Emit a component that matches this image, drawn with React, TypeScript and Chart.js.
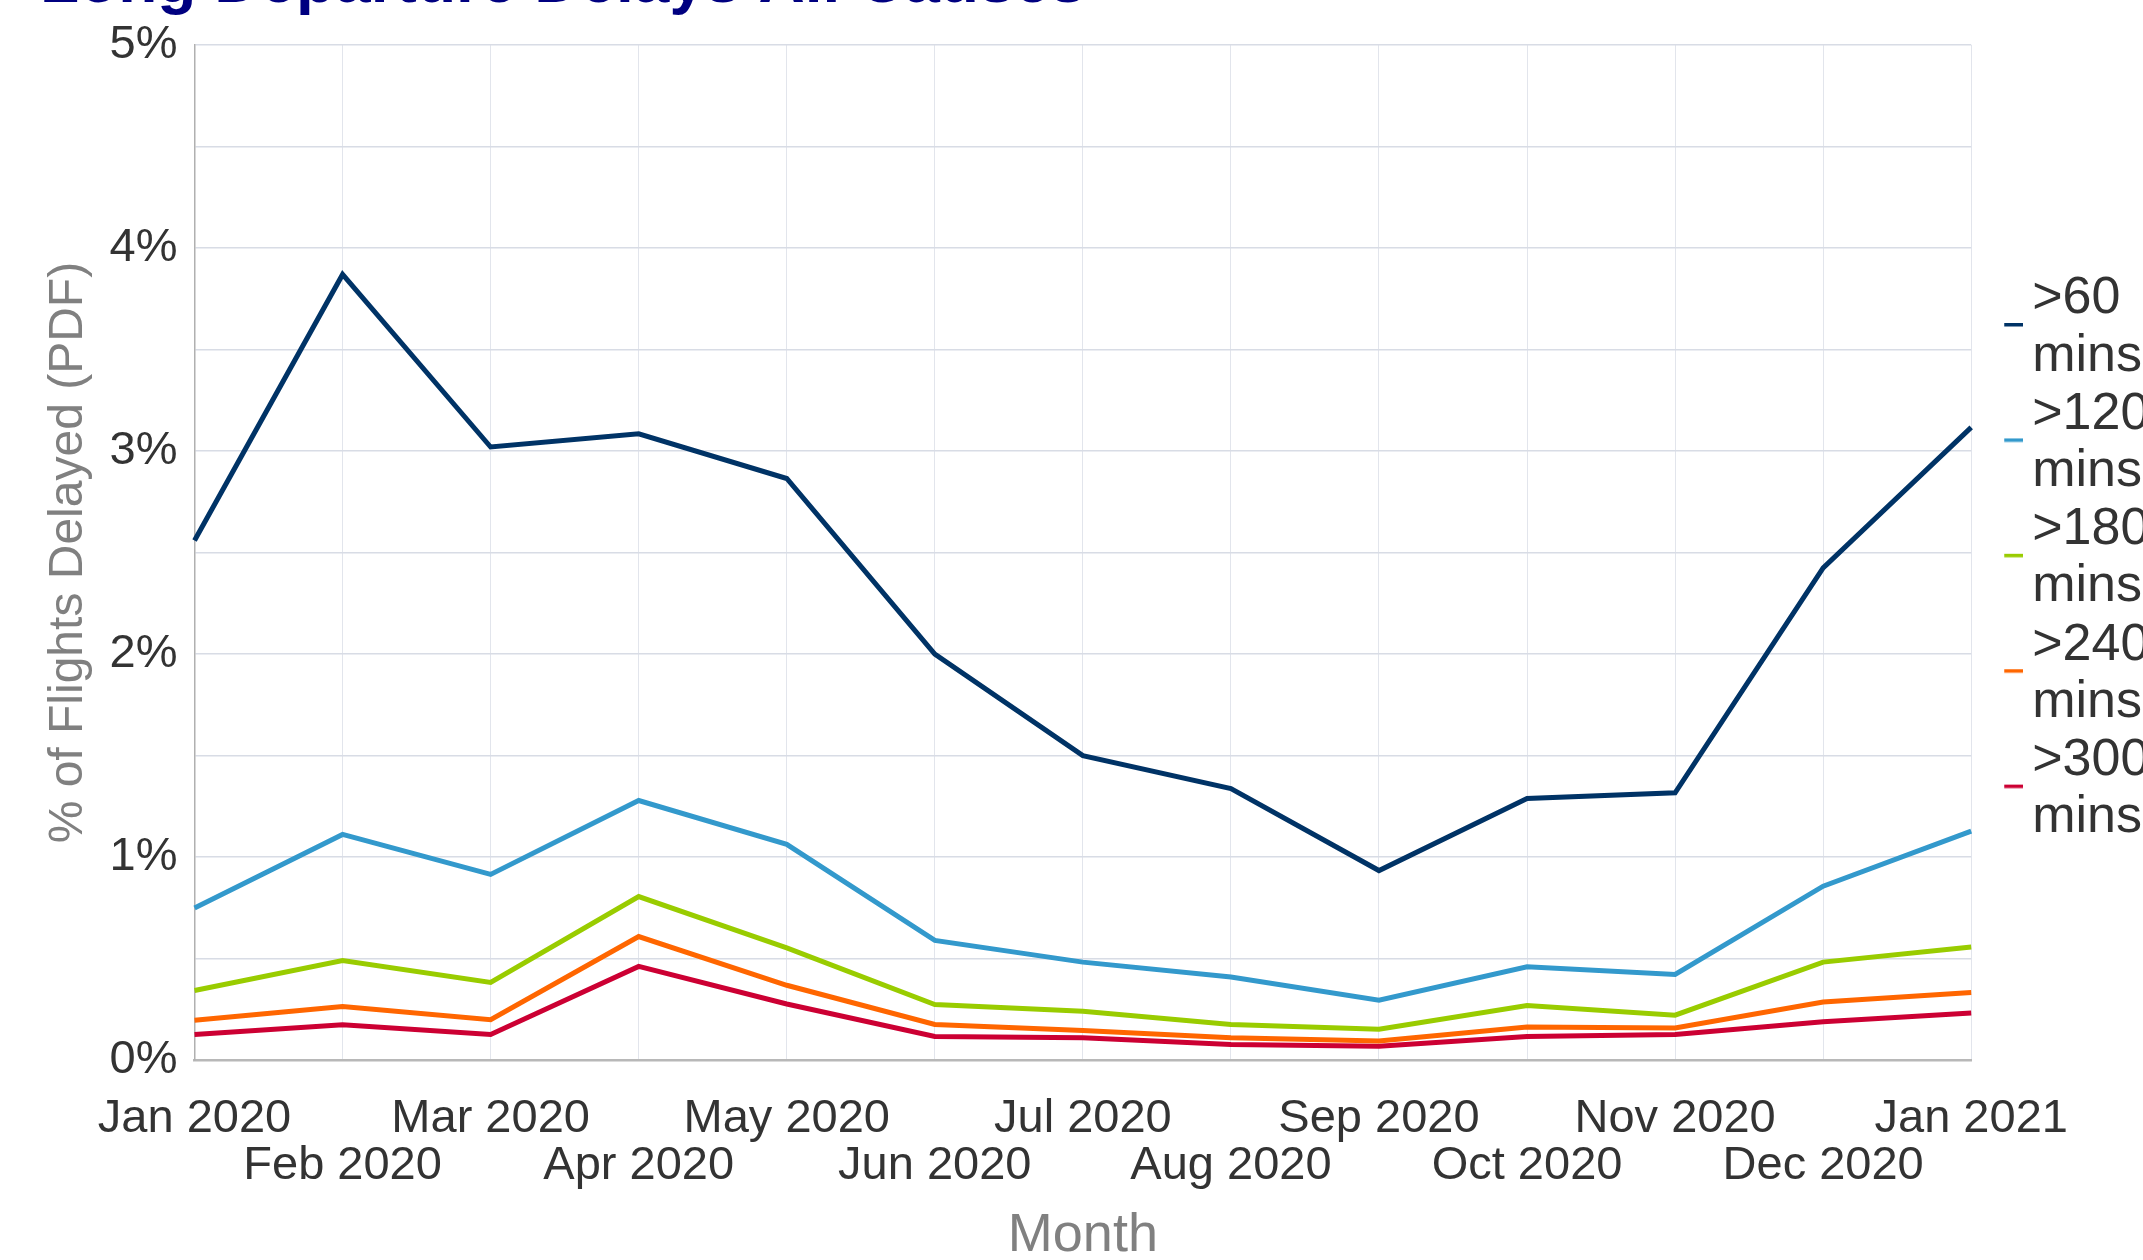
import React, { useEffect, useRef } from 'react';
import { Chart, registerables } from 'chart.js';

Chart.register(...registerables);

const TITLE = 'Long Departure Delays All Causes';
const X_TITLE = 'Month';
const Y_TITLE = '% of Flights Delayed (PDF)';

const MONTHS = [
  'Jan 2020', 'Feb 2020', 'Mar 2020', 'Apr 2020', 'May 2020', 'Jun 2020', 'Jul 2020',
  'Aug 2020', 'Sep 2020', 'Oct 2020', 'Nov 2020', 'Dec 2020', 'Jan 2021',
];

const SERIES_LABELS = ['>60 mins', '>120 mins', '>180 mins', '>240 mins', '>300 mins'];
const SERIES_COLORS = ['#003366', '#3399cc', '#99cc00', '#ff6600', '#cc0033'];

const DELAY_60 = [2.56, 3.87, 3.02, 3.085, 2.865, 2.0, 1.5, 1.338, 0.934, 1.289, 1.317, 2.425, 3.117];
const DELAY_120 = [0.75, 1.112, 0.915, 1.279, 1.063, 0.59, 0.483, 0.41, 0.296, 0.46, 0.422, 0.857, 1.128];
const DELAY_180 = [0.343, 0.491, 0.383, 0.806, 0.553, 0.274, 0.241, 0.176, 0.153, 0.269, 0.222, 0.483, 0.558];
const DELAY_240 = [0.197, 0.264, 0.199, 0.609, 0.369, 0.176, 0.146, 0.11, 0.095, 0.164, 0.159, 0.287, 0.333];
const DELAY_300 = [0.127, 0.174, 0.127, 0.462, 0.277, 0.117, 0.11, 0.077, 0.069, 0.117, 0.127, 0.189, 0.233];

const SERIES_VALUES = [DELAY_60, DELAY_120, DELAY_180, DELAY_240, DELAY_300];

const Y_MIN = 0;
const Y_MAX = 5;
const Y_STEP = 0.5;

const FONT = "'Liberation Sans', Arial, Helvetica, sans-serif";

function makeLegendMark(color: string): HTMLCanvasElement {
  const c = document.createElement('canvas');
  c.width = 68;
  c.height = 60;
  const ctx = c.getContext('2d')!;
  ctx.fillStyle = color;
  ctx.fillRect(68 - 19, 54, 19, 3.5);
  return c;
}

export default function App() {
  const ref = useRef<HTMLCanvasElement | null>(null);

  useEffect(() => {
    if (!ref.current) return;
    const marks = SERIES_COLORS.map((c) => makeLegendMark(c));
    const chart = new Chart(ref.current, {
      type: 'line',
      data: {
        labels: MONTHS,
        datasets: SERIES_LABELS.map((label, i) => ({
          label,
          data: SERIES_VALUES[i],
          borderColor: SERIES_COLORS[i],
          backgroundColor: SERIES_COLORS[i],
          borderWidth: 5,
          pointRadius: 0,
          pointHoverRadius: 0,
          tension: 0,
          fill: false,
        })),
      },
      options: {
        responsive: false,
        animation: false,
        devicePixelRatio: 1,
        layout: { padding: { left: 40, right: 0, top: 0, bottom: 0 } },
        plugins: {
          title: {
            display: true,
            text: TITLE,
            align: 'start',
            color: '#000080',
            font: { family: FONT, size: 64, weight: 'bold', lineHeight: 1.2 },
            padding: { top: 6.2, bottom: 22 },
          },
          legend: {
            display: true,
            position: 'right',
            align: 'start',
            fullSize: false,
            title: { display: true, text: '', font: { size: 8, lineHeight: 1.2 }, padding: { top: 217.4, bottom: 0 } },
            labels: {
              usePointStyle: true,
              pointStyleWidth: 34,
              padding: 1,
              color: '#333333',
              font: { family: FONT, size: 52, lineHeight: 1.1 },
              generateLabels: (ch: any) => {
                const base = Chart.defaults.plugins.legend.labels.generateLabels(ch);
                return base.map((item: any, i: number) => ({
                  ...item,
                  text: String(item.text).split(' '),
                  pointStyle: marks[i],
                }));
              },
            },
          },
          tooltip: { enabled: false },
        },
        scales: {
          x: {
            type: 'category',
            offset: false,
            grid: { color: '#e2e5ec', lineWidth: 1, drawTicks: false },
            border: { color: '#b8b8b8', width: 2.5 },
            ticks: {
              autoSkip: false,
              maxRotation: 0,
              minRotation: 0,
              padding: 35,
              color: '#333333',
              font: { family: FONT, size: 47, lineHeight: 1.0 },
              callback: function (this: any, value: any, index: number) {
                const l = this.getLabelForValue(value);
                return index % 2 === 1 ? ['', l] : l;
              },
            },
            title: {
              display: true,
              text: X_TITLE,
              color: '#808080',
              font: { family: FONT, size: 54, lineHeight: 1.2 },
              padding: { top: -20, bottom: 0 },
            },
          },
          y: {
            type: 'linear',
            min: Y_MIN,
            max: Y_MAX,
            grid: { color: '#d8dce5', lineWidth: 1.5, drawTicks: false },
            border: { color: '#b0b0b0', width: 1.5 },
            ticks: {
              stepSize: Y_STEP,
              padding: 17,
              color: '#333333',
              font: { family: FONT, size: 47, lineHeight: 1.2 },
              callback: (v: any) => {
                const n = Number(v);
                return Math.abs(n - Math.round(n)) < 1e-6 ? `${Math.round(n)}%` : '';
              },
            },
            title: {
              display: true,
              text: Y_TITLE,
              color: '#808080',
              font: { family: FONT, size: 48, lineHeight: 1.2 },
              padding: { top: 0, bottom: -5 },
            },
          },
        },
      },
    } as any);
    return () => chart.destroy();
  }, []);

  return (
    <div
      style={{
        position: 'fixed',
        left: 0,
        top: 0,
        width: 2143,
        height: 1260,
        overflow: 'hidden',
        background: '#ffffff',
      }}
    >
      <canvas
        ref={ref}
        width={2152}
        height={1329}
        style={{ position: 'absolute', left: 0, top: -60, width: 2152, height: 1329 }}
      />
    </div>
  );
}
